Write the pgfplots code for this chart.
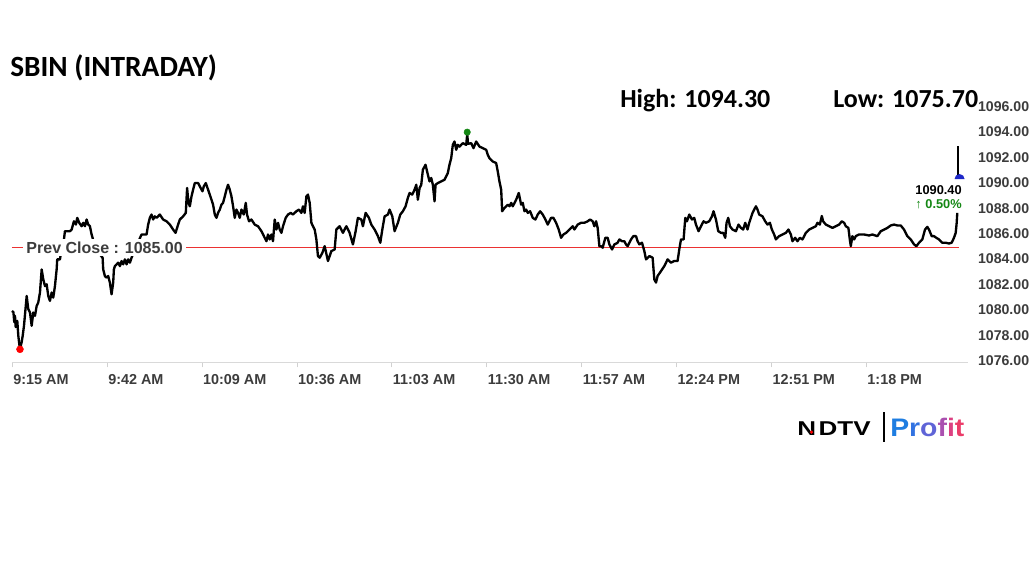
\documentclass[border=0pt]{standalone}
\usepackage{fontspec}
\setmainfont{Liberation Sans}
\newfontfamily\calfont{Carlito}
\usepackage{graphicx}
\usepackage{pgfplots}
\usepackage{pgfplotstable}
\pgfplotsset{compat=1.18}
\definecolor{upgreen}{RGB}{20,135,20}
\definecolor{markblue}{RGB}{30,40,200}
\definecolor{labgray}{RGB}{60,60,60}
\pgfdeclareplotmark{dome}{%
  \pgfpathmoveto{\pgfqpoint{-\pgfplotmarksize}{0pt}}%
  \pgfpatharc{180}{0}{\pgfplotmarksize}%
  \pgfpathclose
  \pgfusepathqfill}

\pgfplotstableread{
m v
0 1080.02
0.4 1079.92
0.65 1079.14
0.85 1079.63
1.05 1078.75
1.5 1079.24
1.8 1078.06
2.07 1077.41
2.27 1077.02
2.76 1077.57
3.04 1078.06
3.41 1078.85
4.18 1081.20
4.63 1080.16
5.12 1079.90
5.60 1078.85
6.05 1079.90
6.54 1079.63
7.02 1080.42
7.47 1080.68
7.96 1081.47
8.44 1083.29
8.90 1082.51
9.38 1081.98
9.86 1082.12
10.32 1081.20
10.80 1080.81
11.28 1081.47
11.74 1081.07
12.22 1081.98
12.70 1083.29
12.87 1084.08
13.64 1084.08
14.21 1085.02
14.78 1085.65
15.06 1086.30
16.48 1086.30
16.97 1086.43
17.62 1087.08
18.19 1086.82
18.56 1087.35
19.13 1086.96
19.81 1086.69
20.26 1086.96
20.75 1086.69
21.23 1087.22
21.69 1086.82
22.17 1086.69
22.65 1086.04
23.87 1084.86
25.01 1084.47
25.78 1084.21
25.95 1083.29
26.43 1082.77
26.91 1082.64
27.37 1082.77
27.85 1082.25
28.33 1081.33
28.79 1082.25
28.99 1083.29
29.27 1083.55
29.76 1083.69
30.21 1083.82
30.70 1083.55
31.18 1083.95
31.63 1083.69
32.12 1084.08
32.60 1083.69
33.05 1084.08
33.54 1083.82
34.02 1084.21
34.96 1084.86
36.86 1086.04
38.28 1086.04
38.74 1086.82
39.22 1087.35
39.70 1087.61
40.16 1087.22
40.64 1087.47
41.13 1087.35
42.06 1087.61
43.00 1087.22
43.97 1087.08
44.91 1086.82
45.84 1086.43
46.53 1086.17
47.26 1086.82
47.75 1087.22
48.69 1087.47
49.45 1087.74
49.82 1089.70
50.22 1088.53
50.59 1088.26
51.07 1089.04
51.53 1089.57
52.01 1090.09
52.95 1090.09
53.43 1089.83
54.20 1089.44
54.57 1089.83
55.14 1090.09
55.79 1089.57
56.27 1089.18
56.76 1088.78
57.21 1088.39
57.70 1087.61
58.18 1087.35
58.63 1087.74
59.12 1088.00
59.60 1088.39
60.05 1088.53
60.54 1089.04
61.02 1089.57
61.47 1089.96
61.96 1089.57
62.44 1089.04
62.90 1088.26
63.38 1087.35
63.86 1088.00
64.32 1087.74
64.80 1087.35
65.28 1088.00
65.94 1087.61
66.51 1088.53
66.87 1087.61
67.44 1087.08
68.12 1087.22
69.06 1086.82
70.00 1086.69
70.97 1086.30
71.90 1085.78
72.39 1085.51
72.84 1086.04
73.33 1085.65
73.81 1086.04
74.26 1085.51
74.75 1087.22
75.23 1086.43
75.69 1086.96
76.17 1086.43
76.65 1086.17
77.11 1086.69
77.87 1087.35
78.53 1087.61
79.29 1087.74
79.95 1087.61
80.91 1087.87
81.65 1088.00
82.34 1087.74
82.79 1088.26
83.27 1087.74
83.76 1089.04
84.21 1089.18
84.70 1088.53
85.18 1086.96
85.63 1086.69
86.12 1086.43
86.60 1085.65
87.05 1084.34
87.54 1084.21
88.31 1084.60
88.96 1085.12
89.90 1083.95
90.86 1084.73
91.80 1084.86
92.28 1086.43
93.22 1086.69
94.16 1086.17
95.12 1086.69
96.06 1086.17
97.00 1085.26
97.77 1086.30
98.42 1087.35
99.39 1087.22
99.84 1086.69
100.61 1087.74
101.55 1087.35
102.23 1086.82
103.17 1086.43
104.11 1085.91
104.79 1085.39
105.36 1086.43
106.01 1087.47
106.95 1087.61
107.43 1088.00
108.20 1087.47
108.85 1086.30
109.79 1086.96
110.47 1087.61
111.21 1087.87
111.98 1088.26
112.63 1088.92
113.12 1089.31
113.88 1089.18
114.54 1089.57
115.02 1089.96
115.48 1088.78
115.97 1089.70
116.44 1089.96
116.90 1091.14
117.66 1091.53
118.32 1090.75
118.80 1090.22
119.28 1090.49
119.74 1089.96
120.22 1088.65
120.51 1089.96
121.16 1090.09
122.12 1090.22
123.06 1090.35
124.00 1090.88
124.47 1091.53
124.96 1092.05
125.42 1093.10
125.90 1093.36
126.39 1092.71
126.84 1093.10
127.33 1092.96
128.27 1093.23
129.23 1093.10
129.52 1093.95
129.74 1093.18
130.65 1093.23
131.31 1092.84
132.07 1093.36
133.01 1092.96
133.95 1092.84
134.92 1092.71
135.37 1092.31
135.85 1092.05
136.79 1091.79
137.76 1091.66
138.21 1091.00
138.69 1090.22
139.18 1089.57
139.46 1087.87
140.12 1088.13
141.05 1088.39
141.54 1088.26
142.02 1088.53
142.48 1088.26
143.44 1088.78
144.18 1089.31
144.86 1088.39
145.32 1088.53
145.80 1087.87
146.28 1088.00
146.74 1087.74
147.42 1087.87
148.16 1087.35
148.93 1087.22
149.58 1087.61
150.26 1087.87
151.00 1087.61
151.77 1087.22
152.42 1086.82
153.39 1087.35
154.04 1087.35
154.81 1086.96
155.55 1086.43
156.23 1085.78
156.88 1086.04
157.65 1086.17
158.59 1086.43
159.53 1086.69
160.01 1086.43
160.95 1086.82
161.91 1086.96
162.85 1086.96
163.79 1087.08
164.47 1087.22
165.21 1087.08
165.69 1086.69
166.18 1087.08
166.63 1086.56
167.12 1085.12
167.60 1085.12
168.05 1085.00
168.82 1085.78
169.48 1085.78
169.96 1085.26
170.73 1084.86
171.38 1085.26
172.32 1085.39
172.80 1085.65
173.57 1085.51
174.22 1085.51
174.70 1085.26
175.16 1085.12
176.12 1085.65
176.78 1085.91
177.54 1085.91
178.00 1085.51
178.49 1085.26
179.25 1085.39
179.91 1084.73
180.39 1084.08
181.33 1084.34
182.27 1084.21
182.75 1082.51
183.23 1082.25
183.69 1082.77
184.65 1083.16
185.59 1083.55
186.53 1084.08
187.49 1083.82
188.43 1083.95
189.37 1083.95
189.85 1084.86
190.34 1085.65
191.08 1085.65
191.56 1087.35
192.04 1087.08
192.70 1087.61
193.46 1087.22
194.11 1087.35
194.60 1086.82
195.34 1086.30
196.02 1086.69
196.76 1087.08
197.44 1086.96
198.38 1087.08
199.15 1087.47
199.60 1087.87
200.29 1087.22
200.94 1086.30
201.71 1086.17
202.36 1086.17
202.93 1085.78
203.30 1086.96
203.78 1087.35
204.27 1086.69
205.00 1086.43
205.97 1086.30
206.71 1086.82
207.39 1086.56
208.04 1086.43
208.61 1086.96
209.27 1086.43
209.75 1086.96
210.69 1087.74
211.66 1088.26
212.11 1088.00
212.59 1087.61
213.53 1087.47
214.29 1087.08
214.95 1086.82
215.63 1086.96
216.20 1086.43
216.85 1086.04
217.34 1085.65
218.28 1085.91
219.21 1086.04
220.18 1086.17
220.92 1086.43
221.60 1086.04
222.06 1085.51
222.82 1085.78
223.48 1085.51
224.16 1085.78
224.90 1085.65
225.86 1086.17
226.80 1086.43
227.74 1086.56
228.71 1086.69
229.16 1086.96
229.84 1086.82
230.41 1087.50
230.78 1087.08
231.55 1086.82
232.49 1086.69
233.43 1086.56
234.39 1086.69
235.33 1086.82
236.09 1087.08
236.75 1086.96
237.23 1086.69
237.97 1086.56
238.37 1085.65
238.65 1085.12
239.11 1085.91
239.59 1085.65
240.07 1085.91
241.01 1086.04
242.43 1086.04
243.85 1085.96
244.79 1086.04
246.21 1085.91
247.18 1086.30
248.12 1086.43
249.06 1086.56
250.02 1086.75
250.96 1086.82
251.90 1086.75
252.86 1086.75
253.80 1086.43
254.74 1085.91
255.71 1085.65
256.65 1085.26
257.30 1085.12
258.07 1085.39
259.00 1085.65
259.77 1086.43
260.42 1086.64
260.90 1086.43
261.67 1085.91
262.32 1085.91
262.98 1085.78
263.74 1085.65
264.68 1085.39
265.65 1085.39
266.59 1085.33
267.36 1085.39
268.01 1085.78
268.50 1086.17
268.78 1086.96
268.95 1087.74
}\pricedata

\begin{document}
\begin{tikzpicture}
\path[use as bounding box] (0,0) rectangle (777pt,437.25pt);
\begin{axis}[
  at={(9pt,165.75pt)}, anchor=south west,
  scale only axis, width=717pt, height=190.5pt,
  xmin=0, xmax=272, ymin=1076, ymax=1096,
  axis x line*=bottom, axis y line*=right,
  x axis line style={draw=black!15, -},
  y axis line style={draw=none, -},
  xtick={0,27,54,81,108,135,162,189,216,243},
  xticklabels={9:15 AM,9:42 AM,10:09 AM,10:36 AM,11:03 AM,11:30 AM,11:57 AM,12:24 PM,12:51 PM,1:18 PM},
  ytick={1076,1078,...,1096},
  tick align=outside,
  major tick length=4pt,
  xtick style={draw=black!18},
  ytick style={draw=none},
  x tick label style={anchor=north west, xshift=-2.5pt, yshift=-2pt,
     font=\bfseries\fontsize{10.8}{12}\selectfont, text=labgray},
  y tick label style={anchor=west, xshift=0pt, yshift=1pt,
     font=\bfseries\fontsize{10.6}{12}\selectfont, text=labgray},
  yticklabel={\pgfmathprintnumber[fixed,fixed zerofill,precision=2,1000 sep={},assume math mode=true]{\tick}},
  clip=false,
]
\draw[draw={rgb,255:red,235;green,50;blue,50}, line width=0.7pt] (axis cs:0,1085) -- (axis cs:269.5,1085);
\addplot[color=black, line width=1.75pt, line join=round] table[x=m,y=v] {\pricedata};
\addplot[color=black, line width=1.5pt] coordinates {(269.2,1093.0) (269.2,1090.45)};
\node[anchor=west, fill=white, inner xsep=2.5pt, inner ysep=2pt, text=labgray,
  font=\bfseries\fontsize{12}{14}\selectfont] at (axis cs:3.1,1085) {Prev Close : 1085.00};
\addplot[only marks, mark=*, mark size=2.6pt, color=red, mark options={fill=red,draw=red}] coordinates {(2.27,1077.0)};
\addplot[only marks, mark=*, mark size=2.4pt, color=upgreen, mark options={fill=upgreen,draw=upgreen}] coordinates {(129.52,1094.1)};
\addplot[only marks, mark=dome, mark size=3.8pt, color=markblue, mark options={fill=markblue}] coordinates {(269.6,1090.4)};
\end{axis}
% titles
\node[anchor=base west, inner sep=0pt, font=\calfont\bfseries\fontsize{22}{26}\selectfont] at (7.5pt,379.5pt) {SBIN (INTRADAY)};
\node[anchor=base west, inner sep=0pt, font=\calfont\bfseries\fontsize{19.5}{23}\selectfont] at (465pt,356.25pt) {High: 1094.30};
\node[anchor=base west, inner sep=0pt, font=\calfont\bfseries\fontsize{19.5}{23}\selectfont] at (624.75pt,356.25pt) {Low: 1075.70};
% last value
\node[anchor=base east, inner sep=0pt, font=\bfseries\fontsize{9.6}{11}\selectfont] at (721.5pt,291.5pt) {1090.40};
\node[anchor=base east, inner sep=0pt, text=upgreen, font=\bfseries\fontsize{9.6}{11}\selectfont] at (721.5pt,280.5pt) {↑ 0.50\%};
% logo
\node[anchor=base west, inner sep=0pt, font=\bfseries\fontsize{15}{16}\selectfont] at (597.75pt,111pt) {\scalebox{1.3}[1]{N\hspace{0.1em}DTV}};
\fill[red] (608.6pt,113.2pt) circle (1.3pt);
\draw[black, line width=1.1pt] (663pt,106pt) -- (663pt,128.5pt);
\node[anchor=base west, inner sep=0pt, font=\bfseries\fontsize{19}{22}\selectfont] at (667.5pt,109.7pt) {\scalebox{1.12}[1]{\textcolor[RGB]{30,125,225}{P}\textcolor[RGB]{50,115,225}{r}\textcolor[RGB]{95,100,215}{o}\textcolor[RGB]{170,80,175}{f}\textcolor[RGB]{220,65,130}{i}\textcolor[RGB]{235,60,105}{t}}};
\end{tikzpicture}
\end{document}
